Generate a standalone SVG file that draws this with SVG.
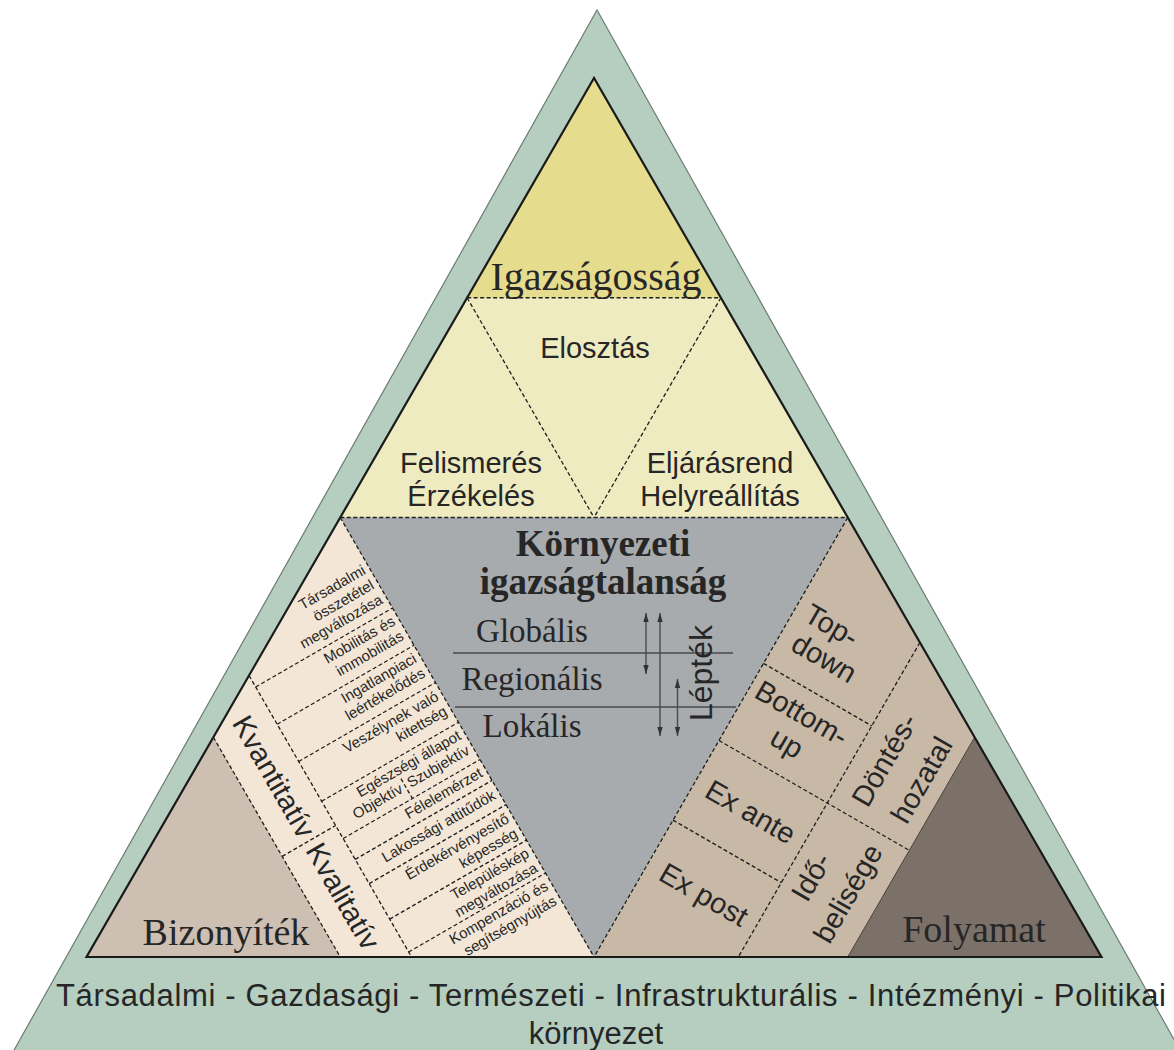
<svg xmlns="http://www.w3.org/2000/svg" width="1174" height="1050" viewBox="0 0 1174 1050">
<defs>
<style>
.dash{fill:none;stroke:#1e1e1e;stroke-width:1.3;stroke-dasharray:4 2.5}
.sans{font-family:"Liberation Sans",Arial,sans-serif;fill:#262626}
.serif{font-family:"Liberation Serif","Times New Roman",serif;fill:#262626}
.item{font-size:15px;text-anchor:end}
.mid{text-anchor:middle}
.f29{font-size:29px}
.f33{font-size:33px}
.f38{font-size:38px}
.scale{stroke:#4a4a4a;stroke-width:1.4;fill:none}
</style>
<marker id="ah" viewBox="0 0 10 6" refX="10" refY="3" markerWidth="9" markerHeight="5.5" markerUnits="userSpaceOnUse" orient="auto-start-reverse"><path d="M0,0 L10,3 L0,6 z" fill="#333"/></marker>
</defs>
<rect width="1174" height="1050" fill="#ffffff"/>
<g id="kornyezet">
<polygon points="597,10 1181,1052 13,1052" fill="#b5cec0" stroke="#6c7c72" stroke-width="1.2"/>
<text class="sans" x="611" y="1006" font-size="31" text-anchor="middle" textLength="1110" lengthAdjust="spacing">Társadalmi - Gazdasági - Természeti - Infrastrukturális - Intézményi - Politikai</text>
<text class="sans" x="596" y="1044" font-size="31" text-anchor="middle">környezet</text>
</g>
<g id="fills">
<polygon points="594,78 340.25,517.5 847.75,517.5" fill="#efebc1"/>
<polygon points="594,78 467.125,297.75 720.875,297.75" fill="#e5dc8e"/>
<polygon points="340.25,517.5 86.5,957 594,957" fill="#f3e6d6"/>
<polygon points="340.25,517.5 847.75,517.5 594,957" fill="#a7abae"/>
<polygon points="847.75,517.5 594,957 1101.5,957" fill="#c8b8a6"/>
<polygon points="86.5,957 213.375,737.25 340.25,957" fill="#cdbfb1"/>
<polygon points="974.625,737.25 847.75,957 1101.5,957" fill="#7b7168"/>
</g>
<g id="connectors">
<line class="dash" x1="467.125" y1="297.75" x2="720.875" y2="297.75"/>
<line class="dash" x1="467.125" y1="297.75" x2="594" y2="517.5"/>
<line class="dash" x1="720.875" y1="297.75" x2="594" y2="517.5"/>
<line class="dash" x1="340.25" y1="517.5" x2="847.75" y2="517.5"/>
<line class="dash" x1="340.25" y1="517.5" x2="594" y2="957"/>
<line class="dash" x1="847.75" y1="517.5" x2="594" y2="957"/>
<line class="dash" x1="213.375" y1="737.25" x2="340.25" y2="957"/>
<line x1="974.625" y1="737.25" x2="847.75" y2="957" stroke="#4a423c" stroke-width="1"/>
<g transform="translate(594,957) rotate(-30)">
<line class="dash" x1="-158" y1="-416.3" x2="-158" y2="-91.2"/>
<line class="dash" x1="-219.75" y1="-243" x2="-158" y2="-243"/>
<line class="dash" x1="-158" y1="-403" x2="0" y2="-403"/>
<line class="dash" x1="-158" y1="-360" x2="0" y2="-360"/>
<line class="dash" x1="-158" y1="-317" x2="0" y2="-317"/>
<line class="dash" x1="-158" y1="-271" x2="0" y2="-271"/>
<line class="dash" x1="-158" y1="-228" x2="0" y2="-228"/>
<line class="dash" x1="-158" y1="-204" x2="0" y2="-204"/>
<line class="dash" x1="-158" y1="-176" x2="0" y2="-176"/>
<line class="dash" x1="-158" y1="-135" x2="0" y2="-135"/>
<line class="dash" x1="-158" y1="-97" x2="0" y2="-97"/>
<line class="dash" x1="-78" y1="-251" x2="-78" y2="-228"/>
</g>
<g transform="translate(594,957) rotate(30)">
<line class="dash" x1="125" y1="-435.3" x2="125" y2="-72.2"/>
<line class="dash" x1="0" y1="-339" x2="125" y2="-339"/>
<line class="dash" x1="0" y1="-250" x2="219.75" y2="-250"/>
<line class="dash" x1="0" y1="-158" x2="125" y2="-158"/>
</g>
<line class="scale" x1="453" y1="653" x2="733" y2="653"/>
<line class="scale" x1="455" y1="707" x2="736" y2="707"/>
<line class="scale" x1="646" y1="613" x2="646" y2="674" marker-start="url(#ah)" marker-end="url(#ah)"/>
<line class="scale" x1="660" y1="613" x2="660" y2="736" marker-start="url(#ah)" marker-end="url(#ah)"/>
<line class="scale" x1="677.5" y1="679" x2="677.5" y2="736" marker-start="url(#ah)" marker-end="url(#ah)"/>
</g>
<polygon id="border" points="594,78 86.5,957 1101.5,957" fill="none" stroke="#1a1a1a" stroke-width="2.2" stroke-linejoin="miter"/>
<g id="igazsagossag">
<text class="serif mid" x="596" y="290" font-size="40">Igazságosság</text>
</g>
<g id="elosztas"><text class="sans mid f29" x="595" y="358">Elosztás</text></g>
<g id="felismeres"><text class="sans mid f29" x="471" y="473">Felismerés</text><text class="sans mid f29" x="471" y="506">Érzékelés</text></g>
<g id="eljarasrend"><text class="sans mid f29" x="720" y="473">Eljárásrend</text><text class="sans mid f29" x="720" y="506">Helyreállítás</text></g>
<g id="igazsagtalansag">
<text class="serif mid" x="603" y="556" font-size="37" font-weight="bold">Környezeti</text>
<text class="serif mid" x="603" y="594" font-size="37" font-weight="bold">igazságtalanság</text>
<text class="serif mid f33" x="532" y="642">Globális</text>
<text class="serif mid f33" x="532" y="690">Regionális</text>
<text class="serif mid f33" x="532" y="737">Lokális</text>
<text class="sans mid" transform="translate(712,673) rotate(-90)" font-size="32">Lépték</text>
</g>
<g id="bizonyitek">
<text class="serif mid f38" x="226" y="945">Bizonyíték</text>
<g transform="translate(594,957) rotate(-30)">
<text class="sans" transform="translate(-197,-384) rotate(90)" font-size="29">Kvantitatív</text>
<text class="sans" transform="translate(-197,-237) rotate(90)" font-size="29">Kvalitatív</text>
<text class="sans item" x="-5" y="-446">Társadalmi</text>
<text class="sans item" x="-5" y="-429">összetétel</text>
<text class="sans item" x="-5" y="-412">megváltozása</text>
<text class="sans item" x="-5" y="-387">Mobilitás és</text>
<text class="sans item" x="-5" y="-370">immobilitás</text>
<text class="sans item" x="-5" y="-344">Ingatlanpiaci</text>
<text class="sans item" x="-5" y="-327">leértékelődés</text>
<text class="sans item" x="-5" y="-300">Veszélynek való</text>
<text class="sans item" x="-5" y="-283">kitettség</text>
<text class="sans item" x="-5" y="-255">Egészségi állapot</text>
<text class="sans item" x="-82" y="-238">Objektív</text>
<text class="sans item" x="-5" y="-238">Szubjektív</text>
<text class="sans item" x="-5" y="-212">Félelemérzet</text>
<text class="sans item" x="-5" y="-186">Lakossági attitűdök</text>
<text class="sans item" x="-5" y="-159">Érdekérvényesítő</text>
<text class="sans item" x="-5" y="-142">képesség</text>
<text class="sans item" x="-5" y="-119">Településkép</text>
<text class="sans item" x="-5" y="-102">megváltozása</text>
<text class="sans item" x="-5" y="-81">Kompenzáció és</text>
<text class="sans item" x="-5" y="-64">segítségnyújtás</text>
</g>
</g>
<g id="folyamat">
<text class="serif mid f38" x="974" y="942">Folyamat</text>
<g transform="translate(594,957) rotate(30)">
<text class="sans mid f29" x="40" y="-396">Top-</text>
<text class="sans mid f29" x="50" y="-364">down</text>
<text class="sans mid f29" x="58" y="-305">Bottom-</text>
<text class="sans mid f29" x="60" y="-272">up</text>
<text class="sans mid f29" x="63" y="-194">Ex ante</text>
<text class="sans mid f29" x="64" y="-99">Ex post</text>
<text class="sans mid f29" transform="translate(163,-316) rotate(-90)">Döntés-</text>
<text class="sans mid f29" transform="translate(205,-317) rotate(-90)">hozatal</text>
<text class="sans mid f29" transform="translate(158,-178) rotate(-90)">Idő-</text>
<text class="sans mid f29" transform="translate(198,-182) rotate(-90)">belisége</text>
</g>
</g>
</svg>
